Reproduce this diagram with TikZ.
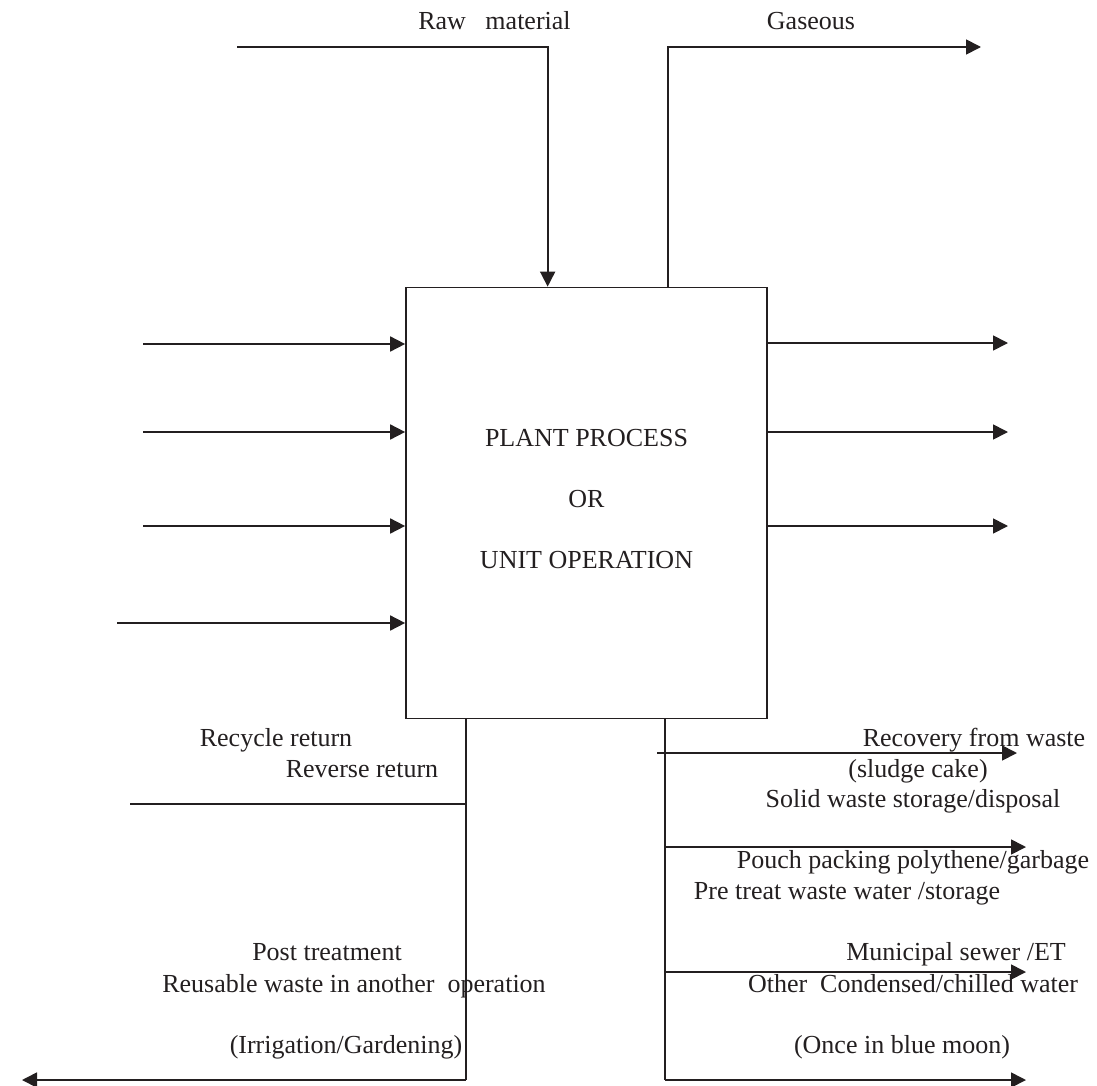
\documentclass[tikz,border=0pt]{standalone}
\usepackage{fontspec}
\setmainfont{Liberation Serif}
\usetikzlibrary{calc}
\usetikzlibrary{positioning}
\usetikzlibrary{arrows.meta}
\definecolor{ink}{HTML}{231F20}
\tikzset{every picture/.style={/utils/exec={\fontsize{13}{15}\selectfont}}}
\tikzset{
  flow/.style={draw=ink, line width=0.85pt, -{Triangle[length=7.5pt,width=7.5pt]}},
  pipe/.style={draw=ink, line width=0.85pt},
  lbl/.style={anchor=base, inner sep=0pt, text=ink},
}

\begin{document}
\begin{tikzpicture}[x=0.5pt, y=-0.5pt]
  \useasboundingbox (0,0) rectangle (1097,1086);

  \node [pipe, minimum width=180.5pt, minimum height=215.5pt, inner sep=0pt] (plant) at (586.5,503) {};
  \node [lbl] (plantl1) at (586.5,446) {PLANT PROCESS};
  \node [lbl] (plantl2) at (586.5,507) {OR};
  \node [lbl] (plantl3) at (586.5,568) {UNIT OPERATION};

  % raw material in, gaseous out
  \coordinate (rawstart) at (237,47);
  \coordinate (rawin) at ($(plant.north west)+(142.5,0)$);
  \draw [flow] (rawstart) -| (rawin);
  \node [lbl] (raw) at (494.5,30) {Raw\ \ \ material};

  \coordinate (gasstart) at ($(plant.north west)+(262.5,0)$);
  \coordinate (gasout) at (981,47);
  \draw [flow] (gasstart) |- (gasout);
  \node [lbl] (gas) at (811,30) {Gaseous};

  % side streams
  \foreach \y/\x [count=\i] in {344/143, 432/143, 526/143, 623/117} {
    \coordinate (in\i) at (\x,\y);
    \draw [flow] (in\i) -- (in\i -| plant.west);
  }
  \foreach \y [count=\i] in {343, 432, 526} {
    \coordinate (out\i) at (1008,\y);
    \draw [flow] (out\i -| plant.east) -- (out\i);
  }

  % return line
  \coordinate (rettop) at ($(plant.south west)+(60.5,0)$);
  \coordinate (retbot) at (rettop |- 0,1080);
  \draw [pipe] (rettop) -- (retbot);
  \coordinate (recyclestart) at (130,804);
  \draw [pipe] (recyclestart) -- (recyclestart -| rettop);
  \coordinate (gardenend) at (22,1080);
  \draw [flow] (retbot) -- (gardenend);

  \node [lbl] (recycle) at (276,746) {Recycle return};
  \node [lbl] (reverse) at (362,777) {Reverse return};
  \node [lbl] (post) at (327,960) {Post treatment};
  \node [lbl] (reuse) at (354,992) {Reusable waste in another\ \ operation};
  \node [lbl] (garden) at (346,1053) {(Irrigation/Gardening)};

  % waste streams
  \coordinate (wastetop) at ($(plant.south west)+(259.5,0)$);
  \coordinate (wastebot) at (wastetop |- 0,1080);
  \draw [pipe] (wastetop) -- (wastebot);
  \coordinate (recstart) at (657,753);
  \coordinate (recend) at (1017,753);
  \draw [flow] (recstart) -- (recend);
  \foreach \y [count=\i] in {847, 972, 1080} {
    \coordinate (waste\i) at (1026,\y);
    \draw [flow] (waste\i -| wastetop) -- (waste\i);
  }

  \node [lbl] (recovery) at (974,746) {Recovery from waste};
  \node [lbl] (sludge) at (918,777) {(sludge cake)};
  \node [lbl] (solid) at (913,807) {Solid waste storage/disposal};
  \node [lbl] (pouch) at (913,868) {Pouch packing polythene/garbage};
  \node [lbl] (pretreat) at (847,899) {Pre treat waste water /storage};
  \node [lbl] (sewer) at (956,960) {Municipal sewer /ET};
  \node [lbl] (other) at (913,992) {Other\ \ Condensed/chilled water};
  \node [lbl] (bluemoon) at (902,1053) {(Once in blue moon)};

\end{tikzpicture}
\end{document}
